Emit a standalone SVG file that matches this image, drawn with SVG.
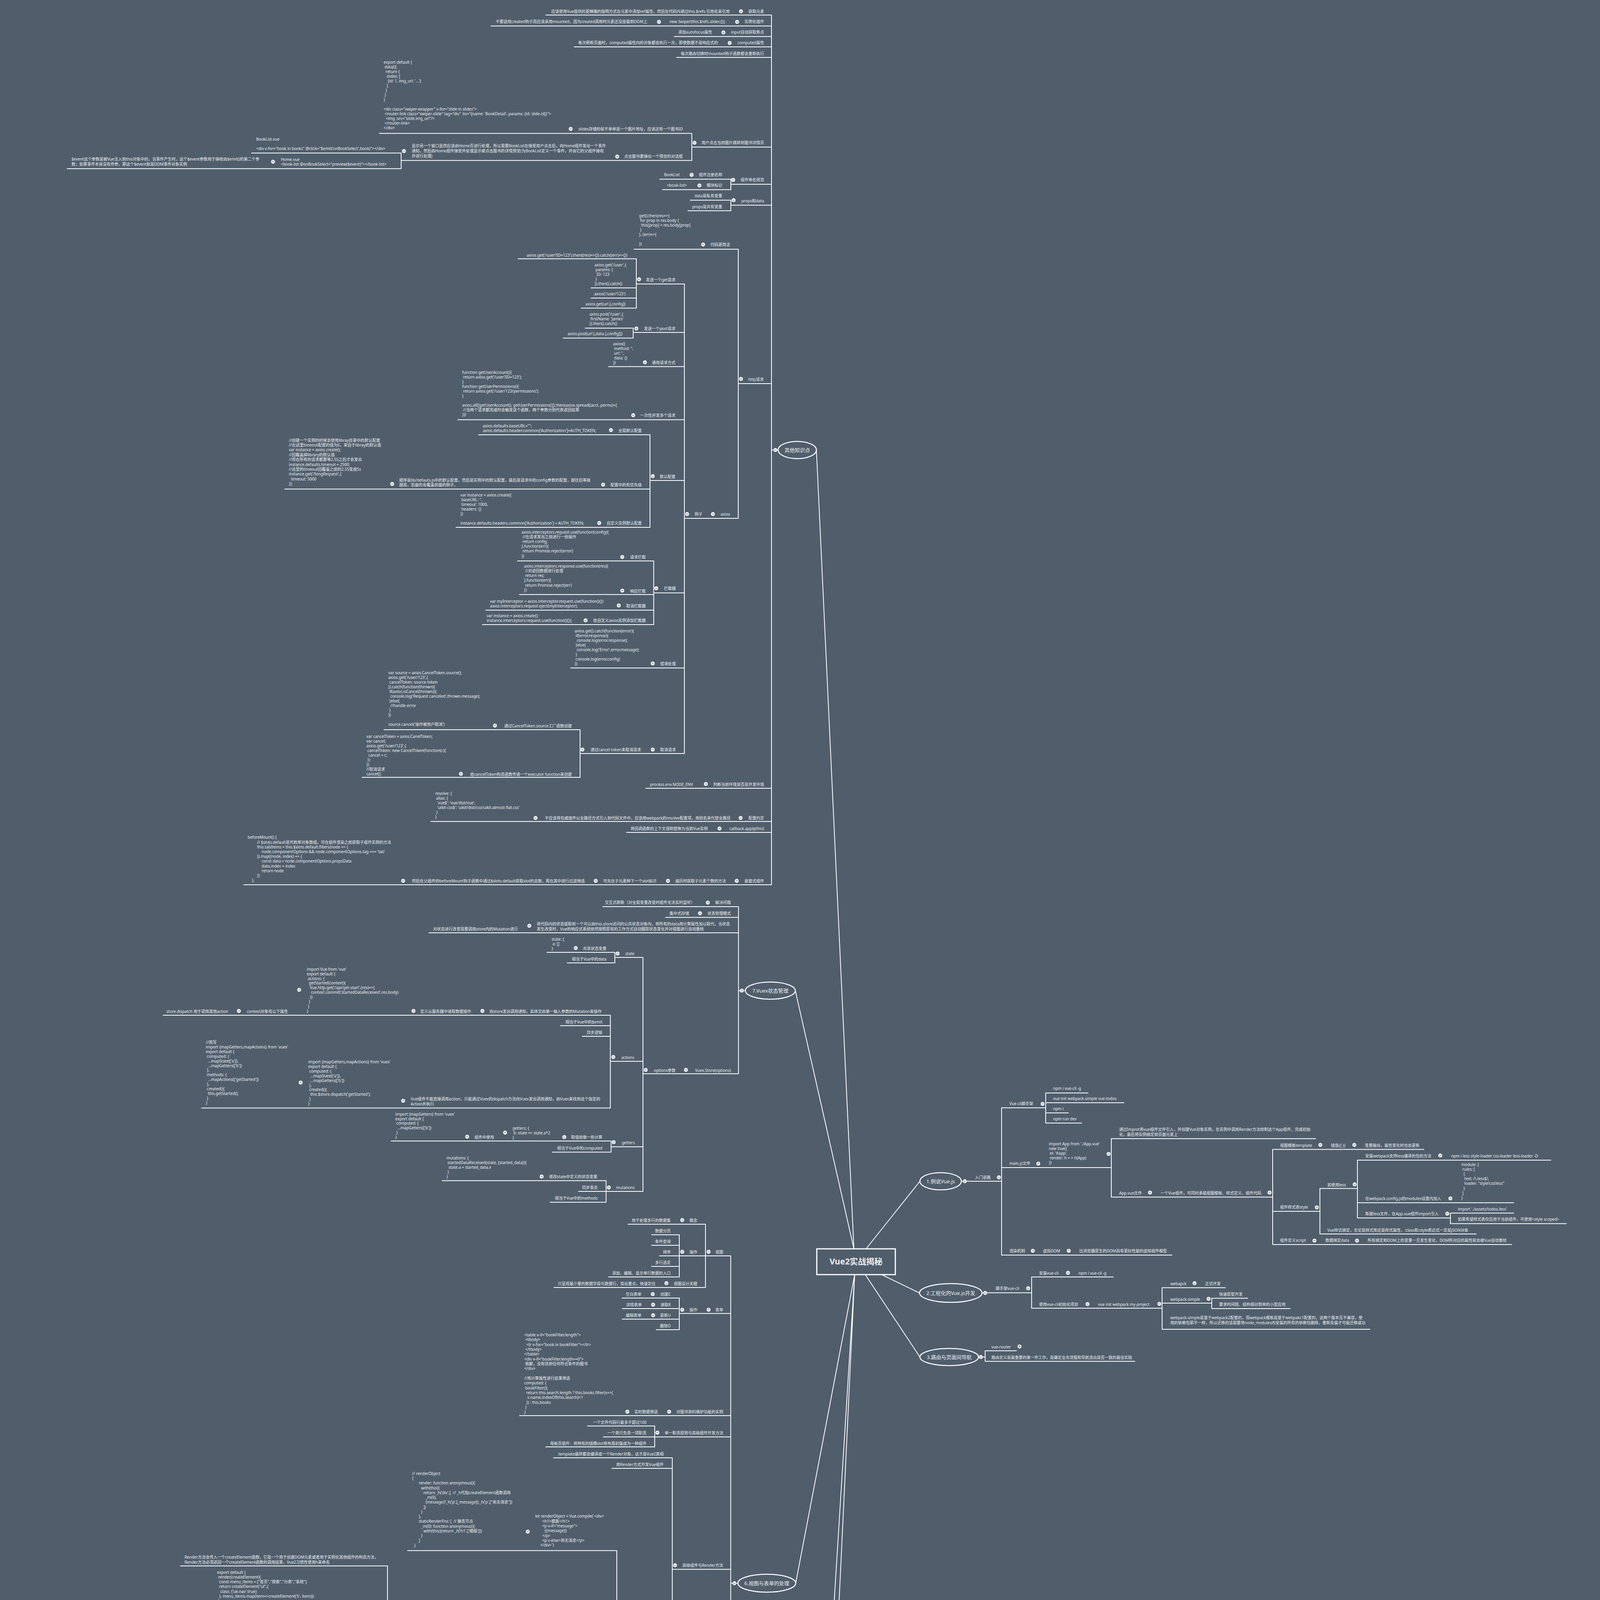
<svg xmlns="http://www.w3.org/2000/svg" width="4188" height="5515" viewBox="0 0 4188 5515">
<defs>
<style>
text{font-family:"Noto Sans","Noto Sans CJK SC",sans-serif;font-size:10px;fill:#EEF0F2;white-space:pre}
.e{text-anchor:end}
.b{font-size:13px;text-anchor:middle}
.c{fill:none;stroke:#FFFFFF;stroke-width:2;stroke-linecap:round;stroke-linejoin:round}
.el{fill:#505E6C;stroke:#FFFFFF;stroke-width:2.5}
</style>
<g id="m"><circle r="5" fill="#FFFFFF"/><path d="M-2.8 0H2.8" stroke="#505E6C" stroke-width="1.4"/></g>
<g id="p"><circle r="5" fill="#FFFFFF"/><path d="M-2.8 0H2.8M0 -2.8V2.8" stroke="#505E6C" stroke-width="1.4"/></g>
</defs>
<rect width="4188" height="5515" fill="#505E6C"/>
<g id="connectors">
<path class="c" d="M2090 1152L2186 3197M2036 2536L2186 3197M2217 3197L2355 3024M2257 3263L2354 3310M2215 3263L2355 3474M2188 3263L2037 4053M2188 3263L2074 5079M2188 3263L2090 5317"/>
<path class="c" d="M1975 38.5V2265M1397 38.5H1975M1257 66.6H1975M1726 93.6H1975M1470 120H1975M1732 147H1975M1771 376.6H1975M1771 341.5V410.7M971 341.5H1771M1027 410.7H1771M1027 391.7V431.7M644 391.7H1027M172 431.7H1027M1871 471.7H1975M1871 458.7V485.4M1689 458.7H1871M1696 485.4H1871M1871 525.3H1975M1871 512.4V539.4M1767 512.4H1871M1761 539.4H1871M1890 982H1975M1890 638V1327M1623 638H1890M1752 1327H1890M1752 727V1929M1629 727H1752M1629 662.6V788.7M1326 662.6H1629M1513 737H1629M1513 763H1629M1488 788.7H1629M1621 851H1752M1621 840V865.5M1498 840H1621M1442 865.5H1621M1558 938.5H1752M1172 1074.5H1752M1664 1230H1752M1664 1113V1350M1225 1113H1664M729 1252H1664M1167.5 1350H1664M1673.5 1517.7H1752M1673.5 1436V1599M1325 1436H1673.5M1329.5 1522H1673.5M1243.5 1562H1673.5M1235 1599H1673.5M1461 1710H1752M1485 1929H1752M1485 1868V1990M983 1868H1485M927 1990H1485M1653 2018H1975M1103 2103H1975M1604 2131H1975M624 2265H1975M1975 1152H1992"/>
<path class="c" d="M1890.5 2321V2748.7M1890.5 2536H1908M1543 2321H1890.5M1704 2348.4H1890.5M1098 2388H1890.5M1646 2748.7H1890.5M1646 2451V3050M1574 2451H1646M1574 2438V2465M1400 2438H1574M1452 2465H1574M1562.5 2717H1646M1562.5 2599V2836.5M418 2599H1562.5M1434.8 2625.7H1562.5M1490.7 2653H1562.5M516 2836.5H1562.5M1564.4 2935.7H1646M1564.4 2921V2949.6M1001.5 2921H1564.4M1414 2949.6H1564.4M1551.6 3050H1646M1551.6 3022.4V3077.7M1132 3022.4H1551.6M1481 3050H1551.6M1408 3077.7H1551.6"/>
<path class="c" d="M2461 3024H2564M2564 2836V3213M2564 2836H2677M2677 2798V2875M2677 2798H2785M2677 2823H2877M2677 2849H2735M2677 2875H2769M2564 2989H2845M2845 2915V3064.6M2845 2915H3368M2845 3064.6H3258M3258 2942.4V3186M3258 2942.4H3645M3258 3101H3379M3379 3042.5V3159M3379 3042.5H3475M3475 2970V3118M3475 2970H3970M3475 3079H3875M3475 3118H3713M3713 3105.5V3132.5M3713 3105.5H3875M3713 3132.5H4010M3379 3159H3779M3258 3186H3870M2564 3213H3000"/>
<path class="c" d="M2514 3309.5H2641M2641 3269V3349M2641 3269H2850M2641 3349H2975M2975 3296.4V3403M2975 3296.4H3137M2975 3336H3102M3102 3323.5V3350M3102 3323.5H3194M3102 3350H3303M2975 3403H3507M2505 3474H2522M2522 3458V3485M2522 3458H2602M2522 3485H2905"/>
<path class="c" d="M1870.6 3215V4890.4M1870.6 4053H1889M1806 3215H1870.6M1806 3134V3296M1607.7 3134H1806M1739 3215H1806M1739 3161V3269M1668 3161H1739M1668 3188H1739M1688 3215H1739M1668 3242H1739M1558 3269H1739M1418 3296H1806M1739 3362.6H1870.6M1739 3323V3404M1592.6 3323H1739M1593 3350H1739M1593 3377H1739M1680 3404H1739M1330 3624H1870.6M1676 3678.6H1870.6M1676 3650.6V3704M1504 3650.6H1676M1544.5 3678.6H1676M1397 3704H1676M1721 4017.6H1870.6M1721 3732V4303.5M1417 3732H1721M1566.5 3759H1721M1579 4303.5H1721M1579 3969.5V4637.5M1043.5 3969.5H1579M992 4264H1579M992 4008.8V4518M461.8 4008.8H992M924 4248.5H992M924 4119.6V4377.4M545 4119.6H924M17 4377.4H924M835 4518H992M835 4471V4565.6M629 4471H835M629 4417.5V4525.5M566 4417.5H629M566 4403.7V4431M514 4403.7H566M424 4431H566M560 4471H629M560 4458V4485.5M497 4458H560M487.5 4485.5H560M542 4525.5H629M542 4512V4539M481 4512H542M431 4539H542M740 4565.6H835M1415 4637.5H1579M1415 4606.5V4673M890 4606.5H1415M895 4646H1415M955 4673H1415M1746.4 4890.4H1870.6M1746.4 4813V4970.5M1629 4813H1746.4M1629 4713V4913M1097.5 4713H1629M1099 4753.5H1629M919 4913H1629M1639 4970.5H1746.4M1639 4941V5000M1147 4941H1639M1553 5000H1639M1553 4981V5020.6M1428 4981H1553M1428 4968V4994M1240.5 4968H1428M1097.5 4994H1428M1223.7 5020.6H1553"/>
<path class="c" d="M1866.6 5174V5458.6M1866.6 5317H1884M1791.6 5174H1866.6M1791.6 5161V5187.4M1410.5 5161H1791.6M969 5187.4H1791.6M1782 5264H1866.6M1782 5214V5316.5M1290 5214H1782M1694 5316.5H1782M1694 5241.7V5391.5M1608 5241.7H1694M850 5364H1694M1442.6 5391.5H1694M1725 5458.6H1866.6M1725 5418V5499M1357 5418H1725M1210 5458.6H1725M1204 5499H1725"/>
</g>
<g id="root"><rect x="2091" y="3197" width="201" height="66" fill="#505E6C" stroke="#FFFFFF" stroke-width="3"/><text x="2191.5" y="3237" text-anchor="middle" style="font-size:21px;font-weight:bold">Vue2实战揭秘</text></g>
<g id="b-other"><ellipse class="el" cx="2041" cy="1152" rx="49" ry="22"/><text class="b" x="2041" y="1156.5">其他知识点</text><use href="#m" x="1985" y="1152"/></g>
<g id="b-vuex"><ellipse class="el" cx="1972" cy="2536" rx="64" ry="22"/><text class="b" x="1972" y="2540.5">7.Vuex状态管理</text><use href="#m" x="1899" y="2536"/></g>
<g id="b-1"><ellipse class="el" cx="2408" cy="3024" rx="53" ry="22"/><text class="b" x="2408" y="3028.5">1.例说Vue.js</text><use href="#m" x="2470" y="3024"/></g>
<g id="b-2"><ellipse class="el" cx="2434" cy="3310" rx="80" ry="24"/><text class="b" x="2434" y="3314.5">2.工程化的Vue.js开发</text><use href="#m" x="2522" y="3310"/></g>
<g id="b-3"><ellipse class="el" cx="2430" cy="3474" rx="75" ry="22"/><text class="b" x="2430" y="3478.5">3.路由与页面间导航</text><use href="#m" x="2511" y="3474"/></g>
<g id="b-6"><ellipse class="el" cx="1963" cy="4053" rx="74" ry="23"/><text class="b" x="1963" y="4057.5">6.视图与表单的处理</text><use href="#m" x="1880" y="4053"/></g>
<g id="b-5"><ellipse class="el" cx="1987" cy="5079" rx="87" ry="24"/><text class="b" x="1987" y="5083.5">5.Vue的测试与调试技术</text></g>
<g id="b-4"><ellipse class="el" cx="1987" cy="5317" rx="103" ry="25"/><text class="b" x="1987" y="5321.5">4.页面的区块化与组件的封装</text><use href="#m" x="1876" y="5317"/></g>

<g id="n1"><text class="e" x="1956" y="32.5">获取元素</text><use href="#m" x="1897" y="29"/></g>
<g id="n2"><text class="e" x="1868" y="32.5">应该使用Vue提供的更精确的指明方式在元素中添加ref属性，然后在代码内通过this.$refs.引用名来引用</text></g>
<g id="n3"><text class="e" x="1956" y="59">实例化插件</text><use href="#m" x="1887" y="56"/></g>
<g id="n4"><text class="e" x="1857" y="59">new Swiper(this.$refs.slider,{});</text><use href="#m" x="1687" y="56"/></g>
<g id="n5"><text class="e" x="1657" y="59">不要选用created钩子而应该采用mounted，因为created调用时元素还没挂载到DOM上</text></g>
<g id="n6"><text class="e" x="1956" y="86">input自动获取焦点</text><use href="#m" x="1852" y="83"/></g>
<g id="n7"><text class="e" x="1823" y="86">添加autofocus属性</text></g>
<g id="n8"><text class="e" x="1956" y="113">computed属性</text><use href="#m" x="1868" y="110"/></g>
<g id="n9"><text class="e" x="1838" y="113">每次刷新页面时，computed属性内的对象都会执行一次，即使数据不是响应式的</text></g>
<g id="n10"><text class="e" x="1956" y="140.6">每次路由切换时mounted钩子函数都会重新执行</text></g>
<g id="n11"><text class="e" x="1956" y="369">用户点击当前图片跳转到图书详情页</text><use href="#m" x="1778" y="365.5"/></g>
<g id="n12"><text class="e" x="1748" y="334">slides存储的就不单单是一个图片地址，应该还有一个图书ID</text><use href="#m" x="1461" y="330"/></g>
<g id="n13"><text><tspan x="982" y="163.3">export default {</tspan><tspan x="982" y="175.3"> data(){</tspan><tspan x="982" y="187.3">  return {</tspan><tspan x="982" y="199.3">   slides: [</tspan><tspan x="982" y="211.3">    {id: 1, img_url: '...'}</tspan><tspan x="982" y="223.3">   ]</tspan><tspan x="982" y="235.3">  }</tspan><tspan x="982" y="247.3"> }</tspan><tspan x="982" y="259.3">}</tspan><tspan x="982" y="283.3">&lt;div class="swiper-wrapper" v-for="slide in slides"&gt;</tspan><tspan x="982" y="295.3"> &lt;router-link class="swiper-slide" tag="div" :to="{name: 'BookDetail', params: {id: slide.id}}"&gt;</tspan><tspan x="982" y="307.3">  &lt;img :src="slide.img_url"/&gt;</tspan><tspan x="982" y="319.3"> &lt;/router-link&gt;</tspan><tspan x="982" y="331.3">&lt;/div&gt;</tspan></text></g>
<g id="n14"><text class="e" x="1748" y="404">点击图书要弹出一个预览的对话框</text><use href="#m" x="1580" y="400.7"/></g>
<g id="n15"><text><tspan x="1054" y="377">显示另一个窗口显然应该由Home页进行处理，所以需要BookList在接受用户点击后，向Home组件发出一个事件</tspan><tspan x="1054" y="389.8">通知，然后由Home组件接受并处理显示被点击图书的详情预览(为BookList定义一个事件，并由它的父组件接收</tspan><tspan x="1054" y="402.6">并进行处理)</tspan></text><use href="#m" x="1034" y="386.7"/></g>
<g id="n16"><text><tspan x="655.7" y="360">BookList.vue</tspan><tspan x="655.7" y="384">&lt;div v-for="book in books" @click="$emit('onBookSelect',book)"&gt;&lt;/div&gt;</tspan></text></g>
<g id="n17"><text><tspan x="719" y="411.7">Home.vue</tspan><tspan x="719" y="424">&lt;book-list @onBookSelect="preview($event)"&gt;&lt;/book-list&gt;</tspan></text><use href="#m" x="699" y="414"/></g>
<g id="n18"><text><tspan x="183" y="411">$event这个参数是被Vue注入到this对象中的，当事件产生时，这个$event参数用于接收由$emit()的第二个参</tspan><tspan x="183" y="424">数；如果事件本身没有传参，那这个$event就是DOM事件对象实例</tspan></text></g>
<g id="n19"><text class="e" x="1956" y="464">组件命名规范</text><use href="#m" x="1877" y="460.6"/></g>
<g id="n20"><text class="e" x="1849" y="451">组件注册名称</text><use href="#m" x="1770.6" y="447.6"/></g>
<g id="n21"><text x="1700" y="451">BookList</text></g>
<g id="n22"><text class="e" x="1849" y="478">模块标记</text><use href="#m" x="1790.6" y="474.7"/></g>
<g id="n23"><text x="1707" y="478">&lt;book-list&gt;</text></g>
<g id="n24"><text class="e" x="1956" y="518">props和data</text><use href="#m" x="1878" y="512.5"/></g>
<g id="n25"><text class="e" x="1849" y="505">data是私有变量</text></g>
<g id="n26"><text class="e" x="1849" y="532.7">props是共有变量</text></g>
<g id="n27"><text class="e" x="1955" y="975">http请求</text><use href="#m" x="1897" y="970"/></g>
<g id="n28"><text class="e" x="1869" y="630">代码更简洁</text><use href="#m" x="1800" y="626"/></g>
<g id="n29"><text><tspan x="1636" y="555.7">get().then(res=&gt;{</tspan><tspan x="1636" y="567.7"> for prop in res.body {</tspan><tspan x="1636" y="579.7">  this[prop] = res.body[prop]</tspan><tspan x="1636" y="591.7"> }</tspan><tspan x="1636" y="603.7">}, (err)=&gt;{</tspan><tspan x="1636" y="627.7">})</tspan></text></g>
<g id="n30"><text class="e" x="1869" y="1320">axios</text><use href="#m" x="1825" y="1316"/></g>
<g id="n31"><text class="e" x="1798" y="1320">例子</text><use href="#m" x="1759" y="1316"/></g>
<g id="n32"><text class="e" x="1729" y="720">发送一个get请求</text><use href="#m" x="1636" y="715"/></g>
<g id="n33"><text class="e" x="1606" y="656.5">axios.get('/user?ID=123').then((res)=&gt;{}).catch((err)=&gt;{})</text></g>
<g id="n34"><text><tspan x="1522" y="681.8">axios.get('/user',{</tspan><tspan x="1522" y="693.8"> params: {</tspan><tspan x="1522" y="705.8">  ID: 123</tspan><tspan x="1522" y="717.8"> }</tspan><tspan x="1522" y="729.8">}).then().catch()</tspan></text></g>
<g id="n35"><text x="1521" y="756">axios('/user/123')</text></g>
<g id="n36"><text x="1499" y="782">axios.get(url [,config])</text></g>
<g id="n37"><text class="e" x="1729" y="845">发送一个post请求</text><use href="#m" x="1629" y="841"/></g>
<g id="n38"><text><tspan x="1509" y="808">axios.post('/user',{</tspan><tspan x="1509" y="820"> firstName: 'James'</tspan><tspan x="1509" y="832">}).then().catch()</tspan></text></g>
<g id="n39"><text x="1453" y="858">axios.post(url [,data [,config]])</text></g>
<g id="n40"><text class="e" x="1729" y="932">通用请求方式</text><use href="#m" x="1651" y="927.5"/></g>
<g id="n41"><text><tspan x="1569.5" y="883.6">axios({</tspan><tspan x="1569.5" y="895.6"> method: '',</tspan><tspan x="1569.5" y="907.6"> url: '',</tspan><tspan x="1569.5" y="919.6"> data: {}</tspan><tspan x="1569.5" y="931.6">})</tspan></text></g>
<g id="n42"><text class="e" x="1729" y="1067">一次性并发多个请求</text><use href="#m" x="1621" y="1063"/></g>
<g id="n43"><text><tspan x="1183" y="957">function getUserAccount(){</tspan><tspan x="1183" y="969"> return axios.get('/user?ID=123');</tspan><tspan x="1183" y="981">}</tspan><tspan x="1183" y="993">function getUserPermissions(){</tspan><tspan x="1183" y="1005"> return axios.get('/user/123/permissions');</tspan><tspan x="1183" y="1017">}</tspan><tspan x="1183" y="1041">axios.all([getUserAccount(), getUserPermissions()]).then(axios.spread((acct, perms)={</tspan><tspan x="1183" y="1053"> //当两个请求都完成时会触发这个函数，两个参数分别代表返回结果</tspan><tspan x="1183" y="1065">}))</tspan></text></g>
<g id="n44"><text class="e" x="1729" y="1223.7">默认配置</text><use href="#m" x="1671" y="1219"/></g>
<g id="n45"><text class="e" x="1643" y="1106">全局默认配置</text><use href="#m" x="1564" y="1101"/></g>
<g id="n46"><text><tspan x="1236" y="1093.7">axios.defaults.baseURL="";</tspan><tspan x="1236" y="1105.7">axios.defaults.header.common['Authorization']=AUTH_TOKEN;</tspan></text></g>
<g id="n47"><text class="e" x="1643" y="1245">配置中的有优先级</text><use href="#m" x="1544" y="1240.8"/></g>
<g id="n48"><text><tspan x="1022" y="1232.5">顺序是lib/defauts.js中的默认配置，然后是实例中的默认配置，最后是请求中的config参数的配置，越往后等级</tspan><tspan x="1022" y="1245.3">越高，后面的会覆盖前面的例子。</tspan></text><use href="#m" x="1004" y="1239"/></g>
<g id="n49"><text><tspan x="739.5" y="1130.5">//创建一个实例的时候会使用libray目录中的默认配置</tspan><tspan x="739.5" y="1142.9">//在这里timeout配置的值为0，来自于libray的默认值</tspan><tspan x="739.5" y="1155.3">var instance = axios.create();</tspan><tspan x="739.5" y="1167.7">//回覆盖掉library的默认值</tspan><tspan x="739.5" y="1180.1">//现在所有的请求都要等2.5S之后才会发出</tspan><tspan x="739.5" y="1192.5">instance.defaults.timeout = 2500;</tspan><tspan x="739.5" y="1204.9">//这里的timeout回覆盖之前的2.5S变成5s</tspan><tspan x="739.5" y="1217.3">instance.get('/longRequest',{</tspan><tspan x="739.5" y="1229.7">  timeout: 5000</tspan><tspan x="739.5" y="1242.1">});</tspan></text></g>
<g id="n50"><text class="e" x="1643" y="1343">自定义实例默认配置</text><use href="#m" x="1534" y="1339"/></g>
<g id="n51"><text><tspan x="1178.6" y="1271">var instance = axios.create({</tspan><tspan x="1178.6" y="1283"> baseURL: '',</tspan><tspan x="1178.6" y="1295"> timeout: 1000,</tspan><tspan x="1178.6" y="1307"> headers: {}</tspan><tspan x="1178.6" y="1319">})</tspan><tspan x="1178.6" y="1343">instance.defaults.headers.common['Authorization'] = AUTH_TOKEN;</tspan></text></g>
<g id="n52"><text class="e" x="1730" y="1510">拦截器</text><use href="#m" x="1680" y="1506"/></g>
<g id="n53"><text class="e" x="1653" y="1430">请求拦截</text><use href="#m" x="1593" y="1426"/></g>
<g id="n54"><text><tspan x="1335" y="1366">axios.interceptors.request.use(function(config){</tspan><tspan x="1335" y="1378.1"> //在请求发出之前进行一些操作</tspan><tspan x="1335" y="1390.2"> return config;</tspan><tspan x="1335" y="1402.3">},function(err){</tspan><tspan x="1335" y="1414.4"> return Promise.reject(error)</tspan><tspan x="1335" y="1426.5">})</tspan></text></g>
<g id="n55"><text class="e" x="1653" y="1516.5">响应拦截</text><use href="#m" x="1593" y="1512"/></g>
<g id="n56"><text><tspan x="1341.6" y="1452.8">axios.interceptors.response.use(function(res){</tspan><tspan x="1341.6" y="1465"> //对返回数据进行处理</tspan><tspan x="1341.6" y="1477.2"> return res;</tspan><tspan x="1341.6" y="1489.4">},function(err){</tspan><tspan x="1341.6" y="1501.6"> return Promise.reject(err)</tspan><tspan x="1341.6" y="1513.8">})</tspan></text></g>
<g id="n57"><text class="e" x="1653" y="1555">取消拦截器</text><use href="#m" x="1584" y="1550"/></g>
<g id="n58"><text><tspan x="1254.6" y="1543">var myInterceptor = axios.interceptor.request.use(function(){})</tspan><tspan x="1254.6" y="1555">axios.interceptors.request.eject(myInterceptor);</tspan></text></g>
<g id="n59"><text class="e" x="1653" y="1592">给自定义axios实例添加拦截器</text><use href="#m" x="1499" y="1588"/></g>
<g id="n60"><text><tspan x="1246" y="1580">var instance = axios.create();</tspan><tspan x="1246" y="1592">instance.interceptors.request.use(function(){});</tspan></text></g>
<g id="n61"><text class="e" x="1730" y="1702.5">错误处理</text><use href="#m" x="1671" y="1698.5"/></g>
<g id="n62"><text><tspan x="1471" y="1619">axios.get().catch(function(error){</tspan><tspan x="1471" y="1631"> if(error.response){</tspan><tspan x="1471" y="1643">  console.log(error.response);</tspan><tspan x="1471" y="1655"> }else{</tspan><tspan x="1471" y="1667">  console.log('Error',error.message);</tspan><tspan x="1471" y="1679"> }</tspan><tspan x="1471" y="1691"> console.log(error.config)</tspan><tspan x="1471" y="1703">})</tspan></text></g>
<g id="n63"><text class="e" x="1730" y="1923">取消请求</text><use href="#m" x="1671" y="1919"/></g>
<g id="n64"><text class="e" x="1641" y="1923">通过cancel token来取消请求</text><use href="#m" x="1491" y="1919"/></g>
<g id="n65"><text class="e" x="1464" y="1862">通过CancelToken.source工厂函数创建</text><use href="#m" x="1267" y="1857.5"/></g>
<g id="n66"><text><tspan x="994" y="1725.5">var source = axios.CancelToken.source();</tspan><tspan x="994" y="1737.5">axios.get('/user/123',{</tspan><tspan x="994" y="1749.6"> cancelToken: source.token</tspan><tspan x="994" y="1761.7">}).catch(function(thrown){</tspan><tspan x="994" y="1773.7"> if(axios.isCancel(thrown)){</tspan><tspan x="994" y="1785.8">  console.log('Request canceled',thrown.message);</tspan><tspan x="994" y="1797.8"> }else{</tspan><tspan x="994" y="1810">  //handle error</tspan><tspan x="994" y="1822"> }</tspan><tspan x="994" y="1834">})</tspan><tspan x="994" y="1858">source.cancel('操作被用户取消')</tspan></text></g>
<g id="n67"><text class="e" x="1464" y="1985.5">给cancelToken构造函数传递一个executor function来创建</text><use href="#m" x="1180" y="1981"/></g>
<g id="n68"><text><tspan x="938" y="1888.5">var cancelToken = axios.CanelToken;</tspan><tspan x="938" y="1900.6">var cancel;</tspan><tspan x="938" y="1912.7">axios.get('/user/123',{</tspan><tspan x="938" y="1924.8"> cancelToken: new CancelToken(function(c){</tspan><tspan x="938" y="1936.9">  cancel = c;</tspan><tspan x="938" y="1949"> })</tspan><tspan x="938" y="1961.1">})</tspan><tspan x="938" y="1973.2">//取消请求</tspan><tspan x="938" y="1985.3">cancel();</tspan></text></g>
<g id="n69"><text class="e" x="1956" y="2012">判断当前环境是否是开发环境</text><use href="#m" x="1807" y="2007"/></g>
<g id="n70"><text x="1664" y="2012">process.env.NODE_ENV</text></g>
<g id="n71"><text class="e" x="1956" y="2098">配置约定</text><use href="#m" x="1896" y="2094"/></g>
<g id="n72"><text class="e" x="1870" y="2098">不应该将包或插件以全路径方式引入到代码文件中，应该用webpack的resolve配置项，用别名来代替全路径</text><use href="#m" x="1371" y="2094"/></g>
<g id="n73"><text><tspan x="1114" y="2035">resolve: {</tspan><tspan x="1114" y="2047"> alias: {</tspan><tspan x="1114" y="2059">  'vue$': 'vue/dist/vue',</tspan><tspan x="1114" y="2071">  'uikit-css$': 'uikit/dist/css/uikit.almost-flat.css'</tspan><tspan x="1114" y="2083"> }</tspan><tspan x="1114" y="2095">}</tspan></text></g>
<g id="n74"><text class="e" x="1956" y="2125">callback.apply(this)</text><use href="#m" x="1842" y="2121"/></g>
<g id="n75"><text class="e" x="1812" y="2125">将回调函数的上下文强制替换为当前Vue实例</text></g>
<g id="n76"><text class="e" x="1956" y="2259">嵌套式组件</text><use href="#m" x="1886" y="2255"/></g>
<g id="n77"><text class="e" x="1858.5" y="2259">遍历时获取子元素个数的方法</text><use href="#m" x="1710" y="2255"/></g>
<g id="n78"><text class="e" x="1681" y="2259">可先在子元素种下一个slot标示</text><use href="#m" x="1525" y="2255"/></g>
<g id="n79"><text class="e" x="1497" y="2259">然后在父组件的beforeMount钩子函数中通过$slots.default获取slot的总数，再在其中进行过滤筛选</text><use href="#m" x="1032" y="2255"/></g>
<g id="n80"><text><tspan x="634" y="2147.4">beforeMount() {</tspan><tspan x="658" y="2159.6">// $slots.default是可枚举对象数组，可在组件渲染之前获取子组件实例的方法</tspan><tspan x="658" y="2171.8">this.tabItems = this.$slots.default.filters(node =&gt; {</tspan><tspan x="670" y="2184">node.componentOptions &amp;&amp; node.componentOptions.tag === 'tab'</tspan><tspan x="658" y="2196.2">}).map((node, index) =&gt; {</tspan><tspan x="670" y="2208.4">const data = node.componentOptions.propsData</tspan><tspan x="670" y="2220.6">data.index = index</tspan><tspan x="670" y="2232.8">return node</tspan><tspan x="658" y="2245">})</tspan><tspan x="645" y="2257.2">},</tspan></text></g>

<g id="v1"><text class="e" x="1871" y="2314">解决问题</text><use href="#m" x="1812" y="2310.7"/></g>
<g id="v2"><text class="e" x="1778.5" y="2314">交互式刷新（对全局变量改变时组件无法实时监听）</text></g>
<g id="v3"><text class="e" x="1871" y="2341.6">状态管理模式</text><use href="#m" x="1792" y="2338"/></g>
<g id="v4"><text class="e" x="1764" y="2341.6">集中式存储</text></g>
<g id="v5"><text><tspan x="1374" y="2368.5">将代码内的状态提取到一个可以由this.store访问的公共状态对象内，将所有的data用计算属性加以取代，当状态</tspan><tspan x="1374" y="2382">发生改变时，Vue的响应式系统依然按照原有的工作方式自动跟踪状态变化并对视图进行自动重绘</tspan></text><use href="#m" x="1355" y="2370"/></g>
<g id="v6"><text class="e" x="1325.7" y="2382">对状态进行改变需要调用store内的Mutation进行</text></g>
<g id="v7"><text class="e" x="1871" y="2743.5">Vuex.Store(options)</text><use href="#m" x="1756" y="2739"/></g>
<g id="v8"><text class="e" x="1729.5" y="2743.5">options参数</text><use href="#m" x="1653" y="2739"/></g>
<g id="v9"><text class="e" x="1624" y="2445">state</text><use href="#m" x="1581" y="2441"/></g>
<g id="v10"><text class="e" x="1552.6" y="2432">共享状态变量</text><use href="#m" x="1474" y="2427"/></g>
<g id="v11"><text><tspan x="1412" y="2408">state: {</tspan><tspan x="1412" y="2420"> a: []</tspan><tspan x="1412" y="2432">}</tspan></text></g>
<g id="v12"><text class="e" x="1552.6" y="2459">相当于Vue中的data</text></g>
<g id="v13"><text class="e" x="1624" y="2711">actions</text><use href="#m" x="1570" y="2706"/></g>
<g id="v14"><text class="e" x="1540" y="2592.7">向store发出调用通知，具体交由第一输入参数的Mutation来操作</text><use href="#m" x="1235" y="2588"/></g>
<g id="v15"><text class="e" x="1206" y="2592.7">定义从服务器中读取数据操作</text><use href="#m" x="1058.5" y="2588"/></g>
<g id="v16"><text><tspan x="785.4" y="2484.7">import Vue from 'vue'</tspan><tspan x="785.4" y="2496.6">export default {</tspan><tspan x="785.4" y="2508.5"> actions: {</tspan><tspan x="785.4" y="2520.4">  getStarted(context){</tspan><tspan x="785.4" y="2532.3">   Vue.http.get('/api/get-start',(res)=&gt;{</tspan><tspan x="785.4" y="2544.2">    context.commit('startedDataReceived',res.body)</tspan><tspan x="785.4" y="2556.1">   })</tspan><tspan x="785.4" y="2568">  }</tspan><tspan x="785.4" y="2579.9"> }</tspan><tspan x="785.4" y="2591.8">}</tspan></text><use href="#m" x="765.8" y="2534"/></g>
<g id="v17"><text class="e" x="737" y="2592.7">context对象有以下属性</text><use href="#m" x="611.5" y="2588"/></g>
<g id="v18"><text class="e" x="584" y="2592.7">store.dispatch 用于调用其他action</text></g>
<g id="v19"><text class="e" x="1542" y="2619.5">相当于Vue中的$emit</text></g>
<g id="v20"><text class="e" x="1542" y="2647">异步逻辑</text></g>
<g id="v21"><text><tspan x="1051.6" y="2817">Vue组件不能直接调用action，只能通过Vuex的dispatch方法向Vuex发出调用通知，由Vuex来找到这个指定的</tspan><tspan x="1051.6" y="2830">Action并执行</tspan></text><use href="#m" x="1032" y="2818"/></g>
<g id="v22"><text><tspan x="789" y="2722">import {mapGetters,mapActions} from 'vuex'</tspan><tspan x="789" y="2733.9">export default {</tspan><tspan x="789" y="2745.8"> computed: {</tspan><tspan x="789" y="2757.7">  ...mapState(['a']),</tspan><tspan x="789" y="2769.6">  ...mapGetters(['b'])</tspan><tspan x="789" y="2781.5"> },</tspan><tspan x="789" y="2793.4"> created(){</tspan><tspan x="789" y="2805.3">  this.$store.dispatch('getStarted');</tspan><tspan x="789" y="2817.2"> }</tspan><tspan x="789" y="2829.1">}</tspan></text><use href="#m" x="769.7" y="2771.4"/></g>
<g id="v23"><text><tspan x="527" y="2672">//简写</tspan><tspan x="527" y="2683.9">import {mapGetters,mapActions} from 'vuex'</tspan><tspan x="527" y="2695.8">export default {</tspan><tspan x="527" y="2707.7"> computed: {</tspan><tspan x="527" y="2719.6">  ...mapState(['a']),</tspan><tspan x="527" y="2731.5">  ...mapGetters(['b'])</tspan><tspan x="527" y="2743.4"> },</tspan><tspan x="527" y="2755.3"> methods: {</tspan><tspan x="527" y="2767.2">  ...mapActions(['getStarted'])</tspan><tspan x="527" y="2779.1"> },</tspan><tspan x="527" y="2791"> created(){</tspan><tspan x="527" y="2802.9">  this.getStarted();</tspan><tspan x="527" y="2814.8"> }</tspan><tspan x="527" y="2826.7">}</tspan></text></g>
<g id="v24"><text class="e" x="1625" y="2929">getters</text><use href="#m" x="1571" y="2924"/></g>
<g id="v25"><text class="e" x="1542" y="2915">取值前做一些计算</text><use href="#m" x="1444.6" y="2911"/></g>
<g id="v26"><text><tspan x="1312" y="2891.7">getters: {</tspan><tspan x="1312" y="2903.6"> b: state =&gt; state.a*2</tspan><tspan x="1312" y="2915.5">}</tspan></text><use href="#m" x="1293" y="2899.5"/></g>
<g id="v27"><text class="e" x="1264.8" y="2915">组件中使用</text><use href="#m" x="1196" y="2910"/></g>
<g id="v28"><text><tspan x="1012" y="2855.6">import {mapGetters} from 'vuex'</tspan><tspan x="1012" y="2867.5">export default {</tspan><tspan x="1012" y="2879.4"> computed: {</tspan><tspan x="1012" y="2891.3">  ...mapGetters(['b'])</tspan><tspan x="1012" y="2903.2"> }</tspan><tspan x="1012" y="2915.1">}</tspan></text></g>
<g id="v29"><text class="e" x="1542" y="2943">相当于Vue中的computed</text></g>
<g id="v30"><text class="e" x="1625" y="3044">mutations</text><use href="#m" x="1558.5" y="3040"/></g>
<g id="v31"><text class="e" x="1529" y="3016">修改state中定义的状态变量</text><use href="#m" x="1386.6" y="3012"/></g>
<g id="v32"><text><tspan x="1143" y="2968">mutations: {</tspan><tspan x="1143" y="2980"> startedDataReceived(state, {started_data}){</tspan><tspan x="1143" y="2992">  state.a = started_data.x</tspan><tspan x="1143" y="3004"> }</tspan><tspan x="1143" y="3016">}</tspan></text></g>
<g id="v33"><text class="e" x="1530" y="3044">同步事务</text></g>
<g id="v34"><text class="e" x="1530" y="3071">相当于Vue中的methods</text></g>

<g id="r1"><text x="2496" y="3017.5">入门道路</text><use href="#m" x="2557" y="3014"/></g>
<g id="r2"><text x="2584" y="2829">Vue-cli脚手架</text><use href="#m" x="2669" y="2826"/></g>
<g id="r3"><text x="2696" y="2790">npm i vue-cli -g</text></g>
<g id="r4"><text x="2696" y="2816">vue init webpack-simple vue-todos</text></g>
<g id="r5"><text x="2696" y="2842">npm i</text></g>
<g id="r6"><text x="2696" y="2867.5">npm run dev</text></g>
<g id="r7"><text x="2584" y="2982">main.js文件</text><use href="#m" x="2658" y="2979"/></g>
<g id="r8"><text><tspan x="2685" y="2932">import App from './App.vue'</tspan><tspan x="2685" y="2944">new Vue({</tspan><tspan x="2685" y="2956"> el: '#app',</tspan><tspan x="2685" y="2968"> render: h = &gt; h(App)</tspan><tspan x="2685" y="2980">})</tspan></text><use href="#m" x="2838" y="2954"/></g>
<g id="r9"><text><tspan x="2865" y="2895">通过Improt将vue组件文件引入，并创建Vue对象实例，在实例中调用Render方法绘制这个App组件，完成初始</tspan><tspan x="2865" y="2908">化，最后将实例绑定到页面元素上</tspan></text></g>
<g id="r10"><text x="2865" y="3058">App.vue文件</text><use href="#m" x="2944" y="3053"/></g>
<g id="r11"><text x="2971" y="3058">一个Vue组件，可同时承载视图模板、样式定义、组件代码</text><use href="#m" x="3250" y="3053"/></g>
<g id="r12"><text x="3277" y="2936">视图模板template</text><use href="#m" x="3380" y="2931"/></g>
<g id="r13"><text x="3407" y="2936">插值{{ }}</text><use href="#m" x="3467" y="2931"/></g>
<g id="r14"><text x="3494" y="2936">变量输出，属性变化时也会更新</text></g>
<g id="r15"><text x="3277" y="3094">组件样式表style</text><use href="#m" x="3371" y="3091"/></g>
<g id="r16"><text x="3398" y="3036.5">如使用less</text><use href="#m" x="3468" y="3032"/></g>
<g id="r17"><text x="3495" y="2963">安装webpack支持less编译的包的方法</text><use href="#m" x="3687" y="2958"/></g>
<g id="r18"><text x="3715" y="2963">npm i less style-loader css-loader less-loader -D</text></g>
<g id="r19"><text x="3495" y="3072">在webpack.config.js的modules设置内加入</text><use href="#m" x="3713" y="3068"/></g>
<g id="r20"><text><tspan x="3741" y="2985">module: {</tspan><tspan x="3741" y="2997.1"> rules: [</tspan><tspan x="3741" y="3009.2">  {</tspan><tspan x="3741" y="3021.3">   test: /\.less$/,</tspan><tspan x="3741" y="3033.4">   loader: "style!css!less"</tspan><tspan x="3741" y="3045.5">  }</tspan><tspan x="3741" y="3057.6"> ]</tspan><tspan x="3741" y="3069.7">}</tspan></text></g>
<g id="r21"><text x="3495" y="3111">新建less文件，在App.vue组件import引入</text><use href="#m" x="3705" y="3107"/></g>
<g id="r22"><text x="3732" y="3098.5">import './assets/todos.less'</text></g>
<g id="r23"><text x="3732" y="3125">如果希望样式表仅应用于当前组件，可使用&lt;style scoped&gt;</text></g>
<g id="r24"><text x="3398" y="3153">Vue样式绑定，无论是样式类还是样式属性，:class和:style表达式一定是JSON对象</text></g>
<g id="r25"><text x="3277" y="3179">组件定义script</text><use href="#m" x="3365" y="3176"/></g>
<g id="r26"><text x="3393" y="3179">数据绑定data</text><use href="#m" x="3474" y="3176"/></g>
<g id="r27"><text x="3501" y="3179">所有绑定到DOM上的变量一旦发生变化，DOM所对应的属性就会被Vue自动重绘</text></g>
<g id="r28"><text x="2584" y="3206">渲染机制</text><use href="#m" x="2644" y="3202"/></g>
<g id="r29"><text x="2670" y="3206">虚拟DOM</text><use href="#m" x="2736" y="3202"/></g>
<g id="r30"><text x="2763" y="3206">比浏览器原生的DOM具有更好性能的虚拟组件模型</text></g>

<g id="w1"><text x="2549" y="3302">脚手架vue-cli</text><use href="#m" x="2632" y="3298"/></g>
<g id="w2"><text x="2660" y="3263">安装vue-cli</text><use href="#m" x="2734" y="3258.6"/></g>
<g id="w3"><text x="2761" y="3263">npm i vue-cli -g</text></g>
<g id="w4"><text x="2660" y="3342.5">使用vue-cli初始化项目</text><use href="#m" x="2784" y="3338.5"/></g>
<g id="w5"><text x="2811" y="3342.5">vue init webpack my-project</text><use href="#m" x="2968" y="3338"/></g>
<g id="w6"><text x="2996" y="3289.5">webapck</text><use href="#m" x="3058" y="3285"/></g>
<g id="w7"><text x="3085" y="3289.5">正式开发</text></g>
<g id="w8"><text x="2996" y="3329.5">webpack-simple</text><use href="#m" x="3094" y="3325"/></g>
<g id="w9"><text x="3121" y="3317">快速原型开发</text></g>
<g id="w10"><text x="3121" y="3343">要求时间短、结构相对简单的小型应用</text></g>
<g id="w11"><text><tspan x="2996" y="3377">webpack-simple是基于webpack2配置的，而webpack模板是基于webpakc1配置的，这两个版本互不兼容，使</tspan><tspan x="2996" y="3390">用的依赖包耶不一样，所以迁移的话需要将node_modules内安装的所有的依赖包删除，重新安装才可能迁移成功</tspan></text></g>
<g id="t1"><text x="2538" y="3452">vue-router</text><use href="#p" x="2610" y="3447"/></g>
<g id="t2"><text x="2538" y="3479">路由定义是最重要的第一件工作，是确定业务流程和导航流出是否一致的最佳实践</text></g>

<g id="s1"><text class="e" x="1851.5" y="3209">视图</text><use href="#m" x="1814" y="3204.6"/></g>
<g id="s2"><text class="e" x="1785" y="3128">概念</text><use href="#m" x="1746.5" y="3123.5"/></g>
<g id="s3"><text class="e" x="1717" y="3128">用于处理多行的数据集</text></g>
<g id="s4"><text class="e" x="1785" y="3209">操作</text><use href="#m" x="1746.5" y="3204.6"/></g>
<g id="s5"><text class="e" x="1717" y="3154.7">数据分页</text></g>
<g id="s6"><text class="e" x="1717" y="3182">条件查询</text></g>
<g id="s7"><text class="e" x="1717" y="3209">排序</text></g>
<g id="s8"><text class="e" x="1717" y="3236">多行选定</text></g>
<g id="s9"><text class="e" x="1717" y="3263">添加、编辑、显示单行数据的入口</text></g>
<g id="s10"><text class="e" x="1785" y="3290">视图设计关键</text><use href="#m" x="1706" y="3285"/></g>
<g id="s11"><text class="e" x="1678" y="3290">只呈现最少量的数据字段与数据行，突出重点，快速定位</text></g>
<g id="s12"><text class="e" x="1851.5" y="3357">表单</text><use href="#m" x="1814" y="3353"/></g>
<g id="s13"><text class="e" x="1785" y="3357">操作</text><use href="#m" x="1746.5" y="3353"/></g>
<g id="s14"><text class="e" x="1717" y="3316.5">创建C</text><use href="#m" x="1671" y="3313"/></g>
<g id="s15"><text class="e" x="1642" y="3316.5">空白表单</text></g>
<g id="s16"><text class="e" x="1717" y="3344">读取R</text><use href="#m" x="1672" y="3340"/></g>
<g id="s17"><text class="e" x="1643" y="3344">详情表单</text></g>
<g id="s18"><text class="e" x="1717" y="3371">更新U</text><use href="#m" x="1672" y="3367"/></g>
<g id="s19"><text class="e" x="1642" y="3371">编辑表单</text></g>
<g id="s20"><text class="e" x="1717" y="3398">删除D</text></g>
<g id="s21"><text class="e" x="1851.5" y="3618">对图书资料维护功能的实例</text><use href="#m" x="1713" y="3614"/></g>
<g id="s22"><text class="e" x="1684" y="3618">实时数据筛选</text><use href="#m" x="1606" y="3614"/></g>
<g id="s23"><text><tspan x="1342" y="3420.8">&lt;table v-if="bookFilter.length"&gt;</tspan><tspan x="1342" y="3433.2"> &lt;tbody&gt;</tspan><tspan x="1342" y="3445.5">  &lt;tr v-for="book in bookFilter"&gt;&lt;/tr&gt;</tspan><tspan x="1342" y="3457.9"> &lt;/tbody&gt;</tspan><tspan x="1342" y="3470.2">&lt;/table&gt;</tspan><tspan x="1342" y="3482.6">&lt;div v-if="bookFilter.length==0"&gt;</tspan><tspan x="1342" y="3494.9"> 抱歉，没有找到任何符合条件的图书</tspan><tspan x="1342" y="3507.3">&lt;/div&gt;</tspan><tspan x="1342" y="3532">//用计算属性进行结果筛选</tspan><tspan x="1342" y="3544.4">computed: {</tspan><tspan x="1342" y="3556.7"> bookFilter(){</tspan><tspan x="1342" y="3569.1">  return this.search.length ? this.books.filter(x=&gt;{</tspan><tspan x="1342" y="3581.4">   x.name.indexOf(this.search)&gt;1</tspan><tspan x="1342" y="3593.8">  }) : this.books</tspan><tspan x="1342" y="3606.1"> }</tspan><tspan x="1342" y="3618.5">}</tspan></text></g>
<g id="s24"><text class="e" x="1851.5" y="3672">单一职责原则与高级组件开发方法</text><use href="#m" x="1683" y="3667.6"/></g>
<g id="s25"><text class="e" x="1655" y="3645">一个文件代码行最多不超过100</text></g>
<g id="s26"><text class="e" x="1655" y="3672">一个类只负责一项职责</text></g>
<g id="s27"><text class="e" x="1655" y="3699">母板页组件：将特有的插槽slot将布局封装成为一种组件</text></g>
<g id="s28"><text class="e" x="1851" y="4011">高级组件与Render方法</text><use href="#m" x="1728" y="4007"/></g>
<g id="s29"><text class="e" x="1699" y="3726">template最终都会编译成一个Render对象，这才是Vue2真相</text></g>
<g id="s30"><text class="e" x="1699" y="3753">用Render方式开发Vue组件</text></g>
<g id="s31"><text class="e" x="1698" y="4297">Render方法基本原理</text><use href="#m" x="1586.5" y="4293.6"/></g>
<g id="s32"><text><tspan x="1370" y="3885.4">let renderObject = Vue.compile(`&lt;div&gt;</tspan><tspan x="1388" y="3897.7">&lt;h1&gt;模版&lt;/h1&gt;</tspan><tspan x="1388" y="3910">&lt;p v-if="message"&gt;</tspan><tspan x="1394" y="3922.3">{{message}}</tspan><tspan x="1388" y="3934.6">&lt;/p&gt;</tspan><tspan x="1388" y="3947">&lt;p v-else&gt;尚无消息&lt;/p&gt;</tspan><tspan x="1383" y="3959.3">&lt;/div&gt;`)</tspan></text><use href="#m" x="1351" y="3921"/></g>
<g id="s33"><text><tspan x="1055" y="3775.7">// renderObject</tspan><tspan x="1055" y="3788">{</tspan><tspan x="1072" y="3800.2">render: function anonymous(){</tspan><tspan x="1078" y="3812.5">with(this){</tspan><tspan x="1084" y="3824.7">return _h('div',[  // _h代指createElement函数调用</tspan><tspan x="1089.5" y="3837">_m(0),</tspan><tspan x="1089.5" y="3849.3">(message)?_h('p',[_message]):_h('p',["尚无消息"])</tspan><tspan x="1084" y="3861.5">])</tspan><tspan x="1078" y="3873.8">}</tspan><tspan x="1072" y="3886">},</tspan><tspan x="1072" y="3898.3">staticRenderFns: [  // 静态节点</tspan><tspan x="1078" y="3910.6">_m(0): function anonymous(){</tspan><tspan x="1084" y="3922.8">with(this){return _h('h1',['模版'])}</tspan><tspan x="1078" y="3935">}</tspan><tspan x="1072" y="3947.4">]</tspan><tspan x="1060" y="3959.6">}</tspan></text></g>
<g id="s34"><text class="e" x="1557.7" y="4257">使用纯JS方式的组件</text><use href="#m" x="1447" y="4253"/></g>
<g id="s35"><text><tspan x="1158" y="4160">//使用纯JS方式的组件</tspan><tspan x="1160" y="4172.1">name: 'xxx',  //组件名必须，否则会报渲染匿名组件的异常</tspan><tspan x="1160" y="4184.3">render(createElement){</tspan><tspan x="1166" y="4196.4">return createElement('button',{</tspan><tspan x="1172" y="4208.5">class: {</tspan><tspan x="1178" y="4220.7">'uk-button': true</tspan><tspan x="1172" y="4232.8">}</tspan><tspan x="1166" y="4244.9">})</tspan><tspan x="1160" y="4257">},</tspan></text><use href="#m" x="1134.7" y="4203.8"/></g>
<g id="s36"><text class="e" x="1105" y="4257">createElement函数</text><use href="#m" x="998.6" y="4252"/></g>
<g id="s37"><text><tspan x="472.6" y="3990">Render方法会传入一个createElement函数，它是一个用于创建DOM元素或者用于实例化其他组件的构造方法，</tspan><tspan x="472.6" y="4003">Render方法必须返回一个createElement函数的调用结果，Vue2习惯性使用h来命名</tspan></text></g>
<g id="s38"><text class="e" x="969.6" y="4242">用法</text><use href="#m" x="931.7" y="4237.5"/></g>
<g id="s39"><text class="e" x="902" y="4114">构造DOM</text><use href="#m" x="839.7" y="4109.7"/></g>
<g id="s40"><text><tspan x="555.8" y="4029">export default {</tspan><tspan x="555.8" y="4041.1"> render(createElement){</tspan><tspan x="555.8" y="4053.3">  const menu_items = ["首页","搜索","分类","系统"]</tspan><tspan x="555.8" y="4065.4">  return createElement("ul",{</tspan><tspan x="555.8" y="4077.6">   class: {'uk-nav':true}</tspan><tspan x="555.8" y="4089.7">  }, menu_items.map(item=&gt;createElement('li', item)))</tspan><tspan x="555.8" y="4101.9"> }</tspan><tspan x="555.8" y="4114">}</tspan></text></g>
<g id="s41"><text class="e" x="902" y="4371">实例化Vue组件</text><use href="#m" x="815.4" y="4366"/></g>
<g id="s42"><text><tspan x="445" y="4139.3">import btn from 'components/button'</tspan><tspan x="445" y="4151.4">export default {</tspan><tspan x="445" y="4163.6"> render(createElement){</tspan><tspan x="445" y="4175.7">  return crreateElement('div',[</tspan><tspan x="445" y="4187.9">   createElement(btn, {</tspan><tspan x="445" y="4200">    class: {'confirm-button': true},</tspan><tspan x="445" y="4212.1">    domProps: {innerHTML: '确定'},</tspan><tspan x="445" y="4224.3">    propsData: {color: 'primary', icon: "plus"}</tspan><tspan x="445" y="4236.4">   })</tspan><tspan x="445" y="4248.6">  ])</tspan><tspan x="445" y="4260.7"> }</tspan><tspan x="445" y="4272.9">}</tspan><tspan x="445" y="4309.3">// 对照的模版语法</tspan><tspan x="445" y="4321.4">&lt;template&gt;</tspan><tspan x="445" y="4333.6"> &lt;div&gt;</tspan><tspan x="445" y="4345.7">  &lt;btn class="confirm-button" color="primary" icon="plus"&gt;确定&lt;/btn&gt;</tspan><tspan x="445" y="4357.9"> &lt;/div&gt;</tspan><tspan x="445" y="4370">&lt;/template&gt;</tspan></text><use href="#m" x="425" y="4251.8"/></g>
<g id="s43"><text class="e" x="397" y="4371">因为Render函数只能返回一个createElement，索毅Vue2一定需要顶层元素的存在</text></g>
<g id="s44"><text class="e" x="969" y="4512.4">全面认识createElement</text><use href="#m" x="841" y="4508"/></g>
<g id="s45"><text class="e" x="812" y="4465">createElement(tag, data, childre)</text><use href="#m" x="635.6" y="4461"/></g>
<g id="s46"><text class="e" x="606.5" y="4411">tag</text><use href="#m" x="572.7" y="4406.5"/></g>
<g id="s47"><text class="e" x="544" y="4398">标签</text></g>
<g id="s48"><text class="e" x="543.6" y="4425">字符串、对象或函数类型</text></g>
<g id="s49"><text class="e" x="606.5" y="4465">data</text><use href="#m" x="566.6" y="4461"/></g>
<g id="s50"><text class="e" x="537.5" y="4452">属性值</text></g>
<g id="s51"><text class="e" x="537.5" y="4479">对象类型</text></g>
<g id="s52"><text class="e" x="606.5" y="4519">children</text><use href="#m" x="549.7" y="4514.6"/></g>
<g id="s53"><text class="e" x="520.6" y="4505.8">子节点</text></g>
<g id="s54"><text class="e" x="520.6" y="4532.7">字符串或数组类型</text></g>
<g id="s55"><text class="e" x="812" y="4560">返回值VNode</text></g>
<g id="s56"><text class="e" x="1557.7" y="4632.5">Render与template的区别</text><use href="#m" x="1422" y="4629"/></g>
<g id="s57"><text><tspan x="899" y="4584.4">在Render方法内是不能使用任何指令标记的，指令标记本质上说只是用HTML的方式表示某一种JS的语法功能，</tspan><tspan x="899" y="4597.4">例如v-for相当于map函数，v-if相当于条件表达式</tspan></text></g>
<g id="s58"><text><tspan x="905" y="4626">对组件与元素属性的赋值是通过createElement函数的第二个参数data进行的，domProps会向元素传递标准的</tspan><tspan x="905" y="4639">HTML属性，propsData则用于对其他Vue组件的自定义props属性进行赋值</tspan></text></g>
<g id="s59"><text x="965" y="4666">Render方法能让我们灵活用JS代码去做更多的控制，避免从JS实例到HTML属性的一种思维转换</text></g>
<g id="s60"><text class="e" x="1851" y="4884">开发服务器的定制</text><use href="#m" x="1753" y="4880.6"/></g>
<g id="s61"><text class="e" x="1725" y="4806">后端服务器代理</text><use href="#m" x="1636" y="4802"/></g>
<g id="s62"><text><tspan x="1113.6" y="4693">在dev-server.js内配置了这样的代理服务，它就是http-proxy-middleware中间件，这个中间件专门负责对请求</tspan><tspan x="1113.6" y="4706">进行代理</tspan></text></g>
<g id="s63"><text><tspan x="1109" y="4733">效果是：当服务器端收到一个指定的请求时，如以/api开头的任意地址，可以将这个请求转发到一个外部的地址，</tspan><tspan x="1109" y="4746">待请求执行完成再将结果返回给客户端</tspan></text></g>
<g id="s64"><text class="e" x="1608" y="4906">启用代理的具体做法</text><use href="#m" x="1499" y="4902"/></g>
<g id="s65"><text><tspan x="1230.6" y="4771.6">// config/index.js</tspan><tspan x="1230.6" y="4783.7">module.exports = {</tspan><tspan x="1230.6" y="4795.9"> build: {},</tspan><tspan x="1230.6" y="4808"> dev: {</tspan><tspan x="1230.6" y="4820.1">  proxy: {</tspan><tspan x="1230.6" y="4832.3">   '/api': {  // 本地开发服务器的地址</tspan><tspan x="1230.6" y="4844.4">    target: 'http://api.demo.com',  // 后端服务器地址</tspan><tspan x="1230.6" y="4856.5">    changeOrigin: true</tspan><tspan x="1230.6" y="4868.7">   }</tspan><tspan x="1230.6" y="4880.8">  }</tspan><tspan x="1230.6" y="4892.9"> }</tspan><tspan x="1230.6" y="4905">}</tspan></text><use href="#m" x="1210.7" y="4835.7"/></g>
<g id="s66"><text class="e" x="1183" y="4906">所有以/api开始的请求代理至http://api.demo.com/api下</text></g>
<g id="s67"><text class="e" x="1725" y="4963">后端服务仿真</text><use href="#m" x="1646" y="4959"/></g>
<g id="s68"><text class="e" x="1618" y="4933">服务模拟Service Mocking</text><use href="#m" x="1479" y="4929"/></g>
<g id="s69"><text class="e" x="1449.5" y="4933">直接模拟出一个伪服务器，在接手API请求后输出所要求的API结果</text></g>
<g id="s70"><text class="e" x="1618" y="4993">具体做法</text><use href="#m" x="1559.7" y="4989"/></g>
<g id="s71"><text class="e" x="1530" y="4973.6">直接开发模拟API</text><use href="#m" x="1435.7" y="4969.5"/></g>
<g id="s72"><text class="e" x="1406.6" y="4961">在build目录加入一个mocks.js文件</text></g>
<g id="s73"><text class="e" x="1406.6" y="4988">打开dev-serve.js文件，引入mocks并在app实例中挂载这个中间件</text></g>
<g id="s74"><text class="e" x="1529" y="5015">用代理服务器将前端发出的API请求转发到一个已有的服务器上处理</text></g>

<g id="d1"><text class="e" x="1847.5" y="5167">组件化</text><use href="#m" x="1799" y="5163.6"/></g>
<g id="d2"><text class="e" x="1771" y="5155">将复杂、充满重复交互界面的组件逐步细化与抽象为简单的、单一化的一个过程</text></g>
<g id="d3"><text class="e" x="1771" y="5181">开发页面组件的步骤</text><use href="#m" x="1661.5" y="5177"/></g>
<g id="d4"><text class="e" x="1633" y="5181">依葫芦画瓢</text><use href="#m" x="1564" y="5177"/></g>
<g id="d5"><text class="e" x="1537" y="5181">代码去重</text><use href="#m" x="1478.6" y="5177"/></g>
<g id="d6"><text class="e" x="1449.5" y="5181">抽取数据结构</text><use href="#m" x="1370.6" y="5177"/></g>
<g id="d7"><text class="e" x="1342" y="5181">采集与制作样本数据</text><use href="#m" x="1233.7" y="5177"/></g>
<g id="d8"><text class="e" x="1206" y="5181">分析设计组件接口</text><use href="#m" x="1106.6" y="5177"/></g>
<g id="d9"><text class="e" x="1078" y="5181">组件内部的细化与重构</text></g>
<g id="d10"><text class="e" x="1847.5" y="5258">数据模拟</text><use href="#m" x="1789" y="5254.6"/></g>
<g id="d11"><text class="e" x="1760" y="5208">用一个对象直接模拟服务器的实现返回的数据结果，保证前端程序即使在没有服务器支持情况下也能运行</text></g>
<g id="d12"><text class="e" x="1760" y="5310">基本使用</text><use href="#m" x="1702" y="5305"/></g>
<g id="d13"><text class="e" x="1673" y="5235">安装mockjs</text></g>
<g id="d14"><text class="e" x="1673" y="5357">新建和main.js同级的mock.js</text><use href="#m" x="1523" y="5353.7"/></g>
<g id="d15"><text><tspan x="1320" y="5261.8">const Mock = require('mockjs');</tspan><tspan x="1320" y="5273.7">var template = {</tspan><tspan x="1320" y="5285.6">    'title': 'mock'</tspan><tspan x="1320" y="5297.5">}</tspan><tspan x="1320" y="5309.4">Mock.mock('/api/data', template);</tspan><tspan x="1320" y="5321.3">var template2 = {</tspan><tspan x="1320" y="5333.2">    'title2': 'mock2'</tspan><tspan x="1320" y="5345.1">}</tspan><tspan x="1320" y="5357">Mock.mock('/api/data2', template2);</tspan></text><use href="#m" x="1301" y="5309"/></g>
<g id="d16"><text class="e" x="1272.7" y="5357">当请求接口为/api/data和/api/data2时，直接返回mock里的template和template2模拟数据</text></g>
<g id="d17"><text class="e" x="1673" y="5385">main.js引入mock.js</text><use href="#m" x="1563" y="5380.6"/></g>
<g id="d18"><text class="e" x="1534" y="5385">require('./mock');</text></g>
<g id="d19"><text class="e" x="1847.5" y="5452">组件的继承——mixin</text><use href="#m" x="1732.6" y="5447.7"/></g>
<g id="d20"><text class="e" x="1703.5" y="5411.6">首先将两个控件中完全相同的部分提取出来，作成一个BaseListMixin.js组件</text></g>
<g id="d21"><text><tspan x="1220" y="5439">然后将两控件中相同的代码删除，用mixins引入BaseListMixin.js类，这样在BaseListMixin中定义的属性、方</tspan><tspan x="1220" y="5452">法、计算属性等所有的Vue组件内允许定义的字段都会被混合到新的组件中，效果就类似继承</tspan></text></g>
<g id="d22"><text><tspan x="1214" y="5478">混合比继承好的地方就是mixins是一个数组，可以同时声明多个混合类，由此产生了无限的可能和极大的组件构</tspan><tspan x="1214" y="5491.6">型的灵活性</tspan></text></g>
</svg>
